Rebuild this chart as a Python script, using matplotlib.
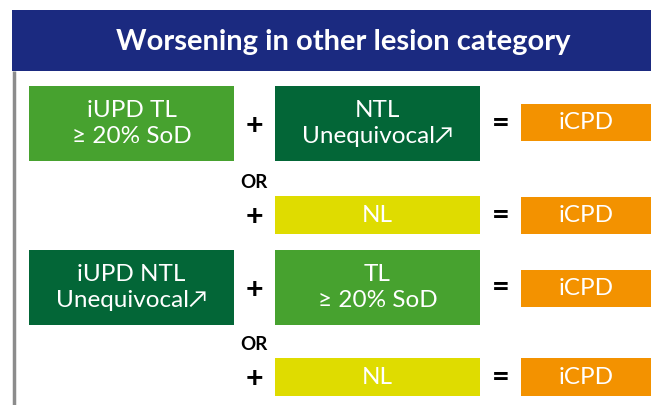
import matplotlib.pyplot as plt
from matplotlib.patches import Rectangle

plt.rcParams['font.family'] = ['Lato', 'DejaVu Sans']

title = "Worsening in other lesion category"

# left-hand boxes of each equation row (None = empty)
left_labels = ["iUPD TL\n≥ 20% SoD", None, "iUPD NTL\nUnequivocal↗", None]
left_colors = ["#47a22f", None, "#036637", None]
# middle boxes
mid_labels = ["NTL\nUnequivocal↗", "NL", "TL\n≥ 20% SoD", "NL"]
mid_colors = ["#036637", "#dfdc00", "#47a22f", "#dfdc00"]
# result boxes
result_labels = ["iCPD", "iCPD", "iCPD", "iCPD"]
result_color = "#f39200"

# vertical layout (pixels, top / bottom of the middle box, result box)
mid_top = [86, 196, 250, 358]
mid_bot = [161, 234, 325, 396]
res_top = [104, 197, 270, 358]
res_bot = [141, 234, 307, 396]
or_y = [183, 345]

fig = plt.figure(figsize=(6.51, 4.05), dpi=100)
ax = fig.add_axes([0, 0, 1, 1])
ax.set_xlim(0, 651)
ax.set_ylim(405, 0)
ax.axis('off')

# header band
ax.add_patch(Rectangle((12, 10), 651 - 12, 61, color="#1b2a80", lw=0))
ax.text(343, 42, title, color="white", fontsize=21, fontweight="bold",
        ha="center", va="center")
# grey side rule
ax.plot([14, 14], [71, 405], color="#8c8c8c", lw=2.5, solid_capstyle="butt")

def box(x0, x1, y0, y1, color, label):
    ax.add_patch(Rectangle((x0, y0), x1 - x0, y1 - y0, color=color, lw=0))
    ax.text((x0 + x1) / 2, (y0 + y1) / 2, label, color="white", fontsize=17.5,
            ha="center", va="center", linespacing=1.3)

for i in range(4):
    yc = (mid_top[i] + mid_bot[i]) / 2
    if left_labels[i] is not None:
        box(29, 234, mid_top[i], mid_bot[i], left_colors[i], left_labels[i])
    box(275, 480, mid_top[i], mid_bot[i], mid_colors[i], mid_labels[i])
    box(521, 651, res_top[i], res_bot[i], result_color, result_labels[i])
    ax.text(254, yc + 2, "+", fontsize=22, fontweight="bold", ha="center", va="center")
    ax.text(501, yc, "=", fontsize=22, fontweight="bold", ha="center", va="center")

for y in or_y:
    ax.text(254, y, "OR", fontsize=13.5, fontweight="bold", ha="center", va="center")

fig.savefig("out.png", dpi=100)
